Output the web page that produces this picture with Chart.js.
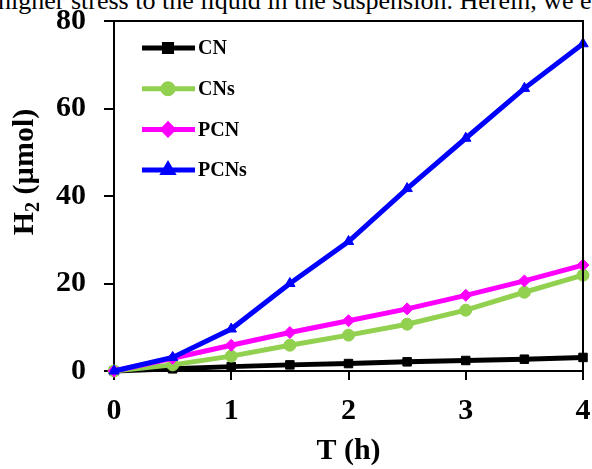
<!DOCTYPE html>
<html>
<head>
<meta charset="utf-8">
<script src="https://cdn.jsdelivr.net/npm/chart.js@4.4.0/dist/chart.umd.min.js"></script>
<style>
  html, body { margin: 0; padding: 0; background: #fff; overflow: hidden; }
  #wrap { position: relative; width: 592px; height: 469px; overflow: hidden; }
  #cut {
    position: absolute; left: -2px; top: -12px; white-space: nowrap;
    font: 26px "Liberation Serif", "Times New Roman", serif; line-height: 1; color: #000;
  }
  canvas { position: absolute; left: 0; top: 0; }
</style>
</head>
<body>
<div id="wrap">
  <div id="cut">higher stress to the liquid in the suspension. Herein, we e</div>
  <canvas id="chart" width="592" height="469"></canvas>
</div>
<script>
// time points (h)
const times = [0, 0.5, 1, 1.5, 2, 2.5, 3, 3.5, 4];

// H2 evolved (umol)
const cn   = [0, 0.5, 1.0, 1.4, 1.7, 2.1, 2.4, 2.7, 3.1];
const cns  = [0, 1.4, 3.4, 5.9, 8.2, 10.7, 13.9, 18.0, 21.9];
const pcn  = [0, 2.9, 5.9, 8.8, 11.5, 14.2, 17.3, 20.6, 24.2];
const pcns = [0, 3.1, 9.6, 20.0, 29.6, 41.7, 53.2, 64.6, 74.8];

const seriesNames = ['CN', 'CNs', 'PCN', 'PCNs'];
const seriesColors = ['#000000', '#92D050', '#FF00FF', '#0000FF'];
const seriesMarkers = ['rect', 'circle', 'rectRot', 'triangle'];

const FONT = '"Liberation Serif", "Times New Roman", serif';

const toPts = (vals) => vals.map((v, i) => ({ x: times[i], y: v }));

const datasets = [cn, cns, pcn, pcns].map((vals, i) => ({
  label: seriesNames[i],
  data: toPts(vals),
  borderColor: seriesColors[i],
  backgroundColor: seriesColors[i],
  borderWidth: 5,
  pointStyle: seriesMarkers[i],
  pointRadius: 6,
  pointBorderWidth: 1,
  pointHoverRadius: 6,
  tension: 0,
  clip: false,
  order: 3 - i
}));

// box around plot + y title with subscript + legend inside the plot
const extras = {
  id: 'extras',
  afterDraw(chart) {
    const { ctx, chartArea: a } = chart;
    ctx.save();
    ctx.strokeStyle = '#000';
    ctx.lineWidth = 2;
    ctx.beginPath();
    ctx.moveTo(a.left, a.top);
    ctx.lineTo(a.right, a.top);
    ctx.lineTo(a.right, a.bottom);
    ctx.stroke();

    // y axis title
    ctx.translate(23, 172);
    ctx.rotate(-Math.PI / 2);
    ctx.fillStyle = '#000';
    ctx.textBaseline = 'alphabetic';
    ctx.textAlign = 'left';
    const big = 'bold 30px ' + FONT, small = 'bold 20px ' + FONT;
    ctx.font = big;
    const wH = ctx.measureText('H').width;
    const wRest = ctx.measureText(' (\u00b5mol)').width;
    ctx.font = small;
    const w2 = ctx.measureText('2').width;
    let x = -(wH + w2 + wRest) / 2;
    ctx.font = big;
    ctx.fillText('H', x, 10);
    x += wH;
    ctx.font = small;
    ctx.fillText('2', x, 16);
    x += w2;
    ctx.font = big;
    ctx.fillText(' (\u00b5mol)', x, 10);
    ctx.restore();

    // legend
    ctx.save();
    chart.data.datasets.forEach((ds, i) => {
      const y = 48 + i * 40.7;
      ctx.strokeStyle = ds.borderColor;
      ctx.lineWidth = 5;
      ctx.beginPath();
      ctx.moveTo(142, y);
      ctx.lineTo(195, y);
      ctx.stroke();
      ctx.fillStyle = ds.backgroundColor;
      Chart.helpers.drawPoint(ctx, { pointStyle: ds.pointStyle, radius: 5, rotation: 0, borderWidth: 1 }, 168, y);
      ctx.fillStyle = '#000';
      ctx.font = 'bold 20px ' + FONT;
      ctx.textBaseline = 'middle';
      ctx.textAlign = 'left';
      ctx.fillText(ds.label, 198, y + 1);
    });
    ctx.restore();
  }
};

new Chart(document.getElementById('chart'), {
  type: 'line',
  data: { datasets },
  options: {
    responsive: false,
    animation: false,
    events: [],
    layout: { padding: { top: 21, right: 9, left: 0, bottom: 0 } },
    plugins: { legend: { display: false }, tooltip: { enabled: false } },
    scales: {
      x: {
        type: 'linear',
        min: 0, max: 4,
        ticks: { stepSize: 1, color: '#000', padding: 13, font: { family: FONT, size: 30, weight: 'bold' } },
        grid: { drawOnChartArea: false, drawTicks: true, tickLength: 9, color: '#000', lineWidth: 2 },
        border: { color: '#000', width: 2 },
        title: { display: true, text: 'T (h)', color: '#000', padding: { top: 0, bottom: 0 }, font: { family: FONT, size: 30, weight: 'bold' } },
        afterFit: (s) => { s.height = 98; s.paddingLeft = 0; s.paddingRight = 0; }
      },
      y: {
        min: 0, max: 80,
        ticks: { stepSize: 20, color: '#000', padding: 18, font: { family: FONT, size: 30, weight: 'bold' } },
        grid: { drawOnChartArea: false, drawTicks: true, tickLength: 10, color: '#000', lineWidth: 2 },
        border: { color: '#000', width: 2 },
        afterFit: (s) => { s.width = 114; s.paddingTop = 0; s.paddingBottom = 0; }
      }
    }
  },
  plugins: [extras]
});
</script>
</body>
</html>
